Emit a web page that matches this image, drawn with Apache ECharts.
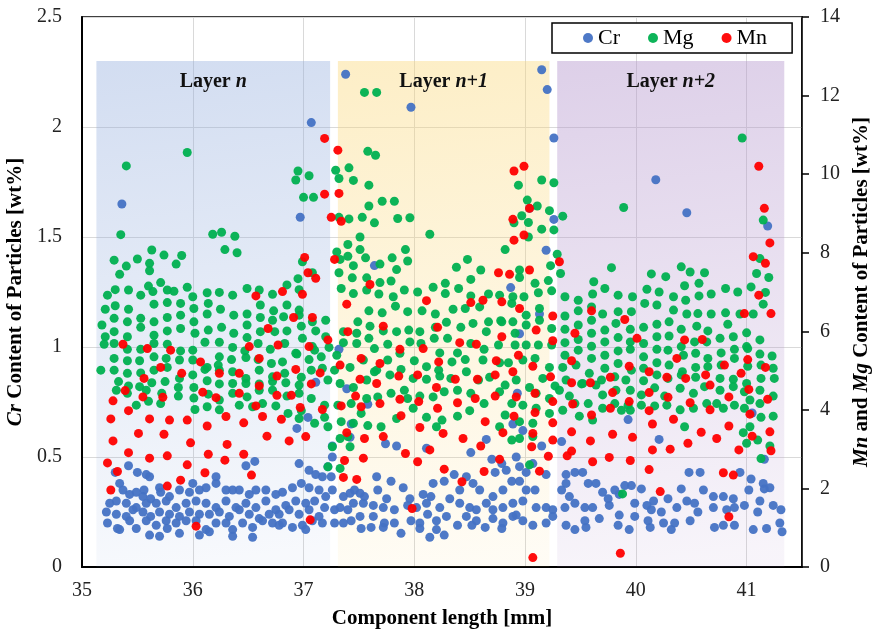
<!DOCTYPE html>
<html><head><meta charset="utf-8">
<script src="https://cdn.jsdelivr.net/npm/echarts@6/dist/echarts.min.js"></script>
<style>html,body{margin:0;padding:0;background:#fff}#c{width:872px;height:636px}</style>
</head><body><div id="c"></div>
<script>
const seriesNames = ['Cr', 'Mg', 'Mn'];
const layerLabels = [['Layer ', 'n'], ['Layer ', 'n+1'], ['Layer ', 'n+2']];
const layerRanges = [[35.13, 37.24], [37.31, 39.22], [39.29, 41.34]];
const layerTop = 2.3;
const xRange = [35, 41.5, 1];
const leftRange = [0, 2.5, 0.5];
const rightRange = [0, 14, 2];

const crData = [
[35.30,0.43],[35.42,0.46],[35.50,0.43],[35.58,0.42],[35.61,0.41],[35.34,0.38],[35.37,0.35],[35.43,0.33],[35.49,0.34],[35.56,0.35],[35.55,0.32],[35.62,0.31],[35.70,0.36],[35.71,0.34],[35.79,0.32],[35.88,0.35],[35.97,0.34],[36.00,0.38],[36.06,0.35],[36.12,0.36],[36.21,0.41],[36.21,0.38],[36.30,0.35],[36.36,0.35],[36.42,0.35],[36.51,0.33],[36.56,0.48],[36.48,0.46],[36.57,0.35],[36.66,0.35],[36.75,0.33],[36.81,0.34],[36.90,0.36],[36.96,0.47],[37.05,0.44],[37.11,0.42],[36.98,0.38],[37.05,0.36],[37.14,0.35],
[35.25,0.29],[35.31,0.30],[35.40,0.29],[35.49,0.27],[35.58,0.29],[35.67,0.29],[35.76,0.30],[35.85,0.27],[35.94,0.29],[36.03,0.30],[36.12,0.29],[36.21,0.27],[36.30,0.30],[36.39,0.27],[36.48,0.29],[36.57,0.27],[36.66,0.30],[36.75,0.26],[36.84,0.28],[36.93,0.30],[37.02,0.29],[37.10,0.30],
[35.22,0.25],[35.31,0.24],[35.40,0.23],[35.46,0.26],[35.55,0.25],[35.62,0.23],[35.70,0.25],[35.79,0.24],[35.88,0.23],[35.97,0.25],[36.06,0.24],[36.15,0.24],[36.24,0.25],[36.33,0.23],[36.42,0.26],[36.51,0.24],[36.60,0.22],[36.69,0.24],[36.78,0.24],[36.87,0.26],[36.96,0.24],[37.05,0.26],[37.14,0.23],
[35.23,0.20],[35.32,0.175],[35.43,0.21],[35.49,0.175],[35.58,0.21],[35.67,0.19],[35.76,0.21],[35.85,0.20],[35.94,0.21],[36.03,0.21],[36.12,0.17],[36.21,0.20],[36.30,0.20],[36.36,0.17],[36.45,0.20],[36.54,0.18],[36.63,0.21],[36.72,0.20],[36.81,0.20],[36.90,0.18],[36.99,0.19],[37.08,0.21],
[35.34,0.17],[35.61,0.145],[35.70,0.14],[35.77,0.175],[35.88,0.153],[36.06,0.145],[36.15,0.16],[36.36,0.14],[36.54,0.135],[36.78,0.19],[37.02,0.17],
[37.26,0.50],[37.22,0.456],[37.17,0.41],[37.25,0.41],[37.26,0.35],[37.20,0.32],[37.19,0.27],[37.28,0.26],[37.17,0.20],[37.28,0.20],
[37.36,0.32],[37.42,0.335],[37.46,0.35],[37.51,0.335],[37.55,0.32],[37.66,0.41],[37.67,0.35],[37.75,0.31],[37.79,0.39],[37.90,0.36],[37.96,0.31],[38.08,0.33],[38.15,0.32],[38.17,0.38],[38.27,0.39],[38.36,0.42],[38.41,0.35],[38.47,0.41],[38.53,0.38],[38.59,0.35],[38.70,0.49],[38.73,0.43],[38.79,0.47],[38.83,0.44],[38.88,0.39],[38.92,0.50],[38.95,0.456],[39.01,0.43],[39.07,0.47],[39.19,0.42],[39.09,0.35],[39.01,0.35],[38.95,0.39],[38.80,0.35],[38.71,0.32],
[37.33,0.27],[37.40,0.26],[37.45,0.29],[37.54,0.29],[37.63,0.28],[37.72,0.27],[37.82,0.26],[37.94,0.28],[38.02,0.27],[38.11,0.29],[38.23,0.27],[38.32,0.31],[38.41,0.29],[38.50,0.27],[38.56,0.26],[38.65,0.29],[38.71,0.26],[38.80,0.27],[38.89,0.29],[38.98,0.30],[39.10,0.27],[39.19,0.27],[39.25,0.26],
[37.36,0.20],[37.43,0.21],[37.51,0.23],[37.63,0.23],[37.73,0.20],[37.82,0.20],[37.97,0.21],[38.05,0.20],[38.12,0.24],[38.20,0.21],[38.29,0.23],[38.39,0.19],[38.47,0.23],[38.56,0.21],[38.64,0.18],[38.71,0.22],[38.80,0.20],[38.89,0.23],[38.98,0.21],[39.07,0.19],[39.19,0.20],[39.25,0.23],
[37.52,0.175],[37.61,0.18],[37.72,0.18],[37.88,0.153],[38.05,0.175],[38.14,0.135],[38.20,0.17],[38.27,0.145],[38.52,0.19],[38.79,0.175],[38.92,0.236],
[39.37,0.42],[39.45,0.43],[39.52,0.43],[39.37,0.38],[39.33,0.35],[39.40,0.32],[39.57,0.38],[39.64,0.38],[39.70,0.34],[39.75,0.31],[39.81,0.35],[39.90,0.37],[39.96,0.37],[40.05,0.355],[40.16,0.30],[40.29,0.31],[40.41,0.355],[40.48,0.43],[40.58,0.43],[40.61,0.35],[40.70,0.32],[40.79,0.32],[40.88,0.31],[40.94,0.43],[41.04,0.40],[41.15,0.38],[41.16,0.355],[41.21,0.36],[41.02,0.35],[41.12,0.30],
[39.36,0.27],[39.45,0.29],[39.54,0.27],[39.61,0.27],[39.76,0.28],[39.85,0.33],[39.99,0.29],[40.10,0.28],[40.14,0.26],[40.23,0.25],[40.37,0.27],[40.46,0.30],[40.53,0.29],[40.56,0.25],[40.70,0.27],[40.82,0.26],[40.89,0.27],[40.98,0.28],[41.10,0.25],[41.24,0.28],[41.31,0.26],
[39.37,0.19],[39.45,0.17],[39.54,0.21],[39.55,0.18],[39.67,0.22],[39.84,0.19],[39.85,0.236],[39.94,0.17],[39.99,0.23],[40.11,0.21],[40.13,0.18],[40.25,0.20],[40.32,0.17],[40.35,0.20],[40.49,0.21],[40.71,0.18],[40.79,0.19],[40.89,0.19],[41.06,0.17],[41.18,0.175],[41.30,0.20],[41.32,0.16],
[35.36,1.65],[37.07,2.02],[36.97,1.59],[37.38,2.24],[37.97,2.09],[39.15,2.26],[39.20,2.17],[39.26,1.95],[39.26,1.58],[39.04,1.63],[39.19,1.44],[38.87,1.27],[37.64,1.37],[40.18,1.76],[40.46,1.61],[41.19,1.55],
[37.32,0.99],[37.39,0.81],[37.58,0.74],[37.43,0.65],[37.42,0.59],[38.95,1.06],[38.93,0.79],[39.13,1.15],[38.89,0.65],[38.98,0.62],[37.74,0.56],[37.84,0.55],[38.11,0.54],[38.65,0.58],[38.51,0.52],[39.15,0.55],
[39.93,0.67],[40.21,0.58],[39.33,0.57],[41.05,0.70],[41.16,0.49],
[36.94,0.63],[37.04,0.68],[37.11,0.84],[37.26,0.55]
];

const mgData = [
[35.40,10.21],[35.95,10.55],[35.35,8.46],[36.18,8.47],[36.26,8.52],[36.38,8.42],[36.29,8.08],[36.40,8.00],[35.63,8.07],[35.29,7.81],[35.40,7.66],[35.34,7.45],[35.50,7.84],[35.61,7.73],[35.61,7.54],[35.74,7.94],[35.85,7.71],[35.90,7.93],[35.71,7.24],[35.60,7.15],[35.42,7.05],[35.30,7.06],[35.23,6.92],[35.53,6.92],[35.83,7.02],[35.95,7.12],[36.00,6.88],[36.13,6.98],[36.24,6.99],[36.36,6.92],[36.49,7.09],[36.60,7.05],[36.72,6.94],[36.85,7.18],[36.95,7.34],[36.96,7.06],[36.99,7.77],[37.08,7.49],[36.95,10.08],[36.93,9.85],[37.05,9.96],[37.00,9.41],[37.09,9.41],[35.64,7.01],[35.77,7.05],
[35.21,6.56],[35.30,6.65],[35.42,6.56],[35.65,6.69],[35.77,6.73],[35.89,6.71],[36.01,6.58],[36.14,6.71],[36.25,6.56],[36.37,6.41],[36.49,6.44],[36.61,6.67],[36.73,6.52],[36.85,6.67],[36.96,6.54],
[35.18,6.16],[35.29,6.33],[35.41,6.24],[35.53,6.33],[35.65,6.24],[35.77,6.35],[35.89,6.41],[36.01,6.24],[36.13,6.44],[36.26,6.10],[36.37,5.95],[36.49,6.16],[36.61,6.35],[36.72,6.28],[36.82,6.37],[36.96,6.41],[37.11,6.01],[37.08,6.24],
[35.21,5.86],[35.29,5.99],[35.41,5.86],[35.53,6.10],[35.65,5.90],[35.77,6.01],[35.89,6.07],[36.02,5.95],[36.14,6.03],[36.24,5.72],[36.49,5.84],[36.61,5.99],[36.74,5.99],[36.85,6.01],[36.98,6.13],[36.99,5.82],[37.10,5.52],
[35.20,5.67],[35.29,5.69],[35.41,5.54],[35.53,5.54],[35.65,5.69],[35.77,5.67],[35.89,5.50],[36.00,5.52],[36.11,5.72],[36.24,5.35],[36.36,5.59],[36.47,5.50],[36.59,5.69],[36.70,5.54],[36.83,5.69],[36.94,5.42],[37.08,5.61],
[35.29,5.31],[35.41,5.25],[35.52,5.25],[35.65,5.35],[35.76,5.31],[35.88,5.27],[36.00,5.27],[36.11,5.03],[36.23,5.14],[36.35,5.28],[36.48,5.33],[36.59,5.28],[36.71,5.18],[36.81,5.22],[36.93,5.44],[37.05,5.28],
[35.17,5.01],[35.29,5.01],[35.41,4.93],[35.53,4.94],[35.65,5.01],[35.77,5.08],[35.88,4.80],[36.00,4.89],[36.13,5.08],[36.24,5.01],[36.36,4.97],[36.48,4.80],[36.60,5.01],[36.72,4.84],[36.83,4.93],[36.98,4.83],[37.07,5.01],
[35.33,4.72],[35.42,4.61],[35.52,4.59],[35.63,4.69],[35.75,4.72],[35.87,4.57],[36.01,4.57],[36.13,4.74],[36.24,4.66],[36.36,4.67],[36.48,4.67],[36.60,4.66],[36.72,4.72],[36.84,4.69],[36.96,4.63],
[35.31,4.50],[35.41,4.42],[35.58,4.50],[35.72,4.42],[35.87,4.35],[36.01,4.30],[36.14,4.40],[36.24,4.25],[36.36,4.42],[36.49,4.33],[36.60,4.50],[36.72,4.50],[36.85,4.35],[36.96,4.42],[37.07,4.29],
[35.49,4.12],[35.60,4.22],[35.71,4.16],[36.02,4.01],[36.13,4.08],[36.24,4.00],[36.42,4.12],[36.54,4.08],[36.63,4.16],[36.75,4.10],[36.86,3.91],[36.96,3.78],[37.10,3.66],[36.98,3.98],
[37.55,12.08],[37.66,12.08],[37.58,10.58],[37.65,10.48],[37.29,10.10],[37.41,10.16],[37.32,9.89],[37.45,9.84],[37.59,9.72],[37.71,9.31],[37.82,9.31],[37.59,9.19],[37.32,8.90],[37.41,8.86],[37.53,8.90],[37.64,8.76],[37.85,8.87],[37.96,8.89],[38.14,8.47],[37.51,8.40],[37.40,8.21],[37.30,8.02],[37.51,8.08],[37.56,7.87],[37.40,7.91],[37.33,7.83],[37.45,7.67],[37.69,7.71],[37.80,7.87],[37.92,8.08],[37.94,7.79],[37.84,7.57],[37.32,7.49],[37.44,7.36],[37.57,7.36],[37.69,7.24],[37.79,7.28],[37.34,7.09],[37.45,6.96],[37.57,7.05],[37.68,6.95],[37.91,7.05],[38.03,7.00],[38.17,7.12],[38.28,7.22],[38.28,6.96],[38.40,7.09],[38.38,7.63],[38.48,7.83],[38.60,7.56],[38.51,7.32],[38.67,6.95],[38.77,6.92],[38.82,8.08],[38.94,9.72],[39.15,9.85],[39.26,9.78],[39.02,9.34],[39.11,9.19],[38.97,8.94],[39.03,8.77],[38.90,8.76],[39.22,9.07],[39.34,8.93],[39.15,8.60],[39.26,8.58],[39.03,8.40],[39.29,7.96],[39.23,7.67],[39.32,7.47],[38.95,7.56],[38.95,7.37],[39.09,7.22],[39.21,7.29],[39.12,6.98],[39.24,7.03],[38.89,6.88],[38.99,6.88],[39.36,6.88],
[37.81,6.88],[38.51,6.90],[38.88,6.71],
[37.20,6.28],[37.49,6.24],[37.59,6.52],[37.71,6.47],[37.83,6.64],[37.94,6.50],[38.07,6.52],[38.19,6.44],[38.29,6.23],[38.35,6.56],[38.46,6.58],[38.59,6.62],[38.67,6.24],[38.78,6.27],[38.89,6.24],[39.01,6.41],[39.13,6.58],[39.24,6.07],
[37.36,5.99],[37.48,5.95],[37.60,6.13],[37.72,6.01],[37.84,5.99],[37.95,6.03],[38.05,5.99],[38.19,6.10],[38.30,5.82],[38.42,6.10],[38.53,6.20],[38.65,5.99],[38.79,6.24],[38.91,5.95],[39.01,6.16],[39.13,6.28],
[37.20,5.86],[37.16,5.35],[37.23,5.59],[37.36,5.71],[37.48,5.69],[37.59,5.82],[37.64,5.56],[37.76,5.67],[37.87,5.44],[37.96,5.73],[38.06,5.69],[38.18,5.82],[38.23,5.45],[38.39,5.45],[38.51,5.69],[38.63,5.54],[38.76,5.65],[38.91,5.65],[39.01,5.65],[39.12,5.65],[39.24,5.65],
[37.17,5.06],[37.28,5.01],[37.30,5.39],[37.42,5.08],[37.54,5.27],[37.64,4.97],[37.76,5.27],[37.88,5.03],[38.00,5.25],[38.11,5.10],[38.22,5.01],[38.34,5.22],[38.46,5.28],[38.62,5.27],[38.77,5.20],[38.85,5.20],[38.98,5.27],[39.09,5.31],[39.22,5.08],
[37.22,4.76],[37.33,4.67],[37.45,4.57],[37.57,4.76],[37.66,5.01],[37.78,4.89],[37.91,4.50],[37.99,4.80],[38.11,4.78],[38.23,4.86],[38.33,4.80],[38.47,4.97],[38.58,4.76],[38.68,4.83],[38.82,4.63],[38.92,4.76],[39.04,4.57],[39.16,4.80],[39.27,4.61],
[37.19,4.12],[37.31,4.12],[37.43,4.16],[37.57,4.29],[37.67,4.33],[37.79,4.42],[37.94,4.29],[38.05,4.35],[38.17,4.33],[38.27,4.46],[38.39,4.50],[38.51,4.42],[38.63,4.16],[38.77,4.46],[38.88,4.16],[38.98,4.12],[39.10,4.42],[39.22,4.29],
[37.19,3.81],[37.22,3.57],[37.34,3.70],[37.45,3.66],[37.52,3.91],[37.58,3.60],[37.70,3.57],[37.84,3.78],[37.99,4.04],[38.11,3.81],[38.20,3.57],[38.25,3.74],[38.39,3.84],[38.50,3.98],[38.77,3.57],[38.82,3.87],[38.95,3.70],[39.07,3.66],[39.10,4.04],[39.22,3.91],
[37.40,3.32],[37.33,3.27],[37.42,3.06],[37.26,3.06],[37.22,2.55],[37.33,2.51],[38.88,3.23],[38.95,3.27],[39.04,2.60],[39.07,3.32],
[40.96,10.92],[39.89,9.15],[41.15,8.83],[41.12,7.85],[41.09,7.47],[41.20,7.37],[41.04,7.13],[41.17,6.99],[39.78,7.62],[39.62,7.26],[39.72,7.09],[39.61,6.95],[39.84,6.92],[39.97,6.88],[40.14,7.46],[40.10,7.07],[40.21,7.00],[40.27,7.39],[40.34,6.88],[40.41,7.64],[40.49,7.51],[40.62,7.49],[40.44,7.16],[40.57,7.22],[40.45,6.79],[40.57,6.90],[40.68,6.95],[40.81,7.09],[40.92,7.00],[39.48,6.79],[41.15,6.69],
[39.36,6.39],[39.48,6.52],[39.60,6.62],[39.70,6.44],[39.84,6.50],[39.96,6.50],[40.08,6.71],[40.19,6.67],[40.34,6.54],[40.46,6.44],[40.56,6.45],[40.68,6.44],[40.81,6.47],[40.94,6.44],[41.06,6.44],
[39.36,6.05],[39.48,6.16],[39.60,6.28],[39.72,6.03],[39.82,6.20],[39.95,6.05],[40.07,6.10],[40.19,6.18],[40.30,6.24],[40.41,6.05],[40.55,6.13],[40.65,6.01],[40.83,6.18],[41.00,5.96],[41.12,5.78],
[39.36,5.71],[39.48,5.79],[39.60,5.95],[39.72,5.73],[39.84,5.84],[39.95,5.73],[40.07,5.69],[40.19,5.86],[40.30,5.88],[40.41,5.61],[40.53,5.73],[40.64,5.73],[40.76,5.82],[40.88,5.86],[41.00,5.61],
[39.36,5.39],[39.48,5.52],[39.60,5.62],[39.72,5.39],[39.84,5.50],[39.95,5.54],[40.07,5.35],[40.19,5.54],[40.29,5.52],[40.43,5.39],[40.54,5.44],[40.65,5.31],[40.77,5.45],[40.89,5.54],[41.01,5.56],[41.12,5.42],[41.23,5.37],
[39.34,5.08],[39.46,5.14],[39.60,5.31],[39.72,5.06],[39.84,5.18],[39.96,5.01],[40.07,5.06],[40.19,5.20],[40.30,5.14],[40.42,4.97],[40.54,5.08],[40.65,5.10],[40.77,5.14],[40.89,5.31],[41.01,5.11],[41.13,5.14],[41.24,5.06],
[39.37,4.76],[39.52,4.67],[39.58,4.93],[39.69,4.76],[39.81,4.84],[39.91,4.76],[40.07,4.74],[40.19,4.89],[40.29,4.80],[40.41,4.89],[40.54,4.83],[40.76,4.80],[40.88,4.78],[41.00,4.67],[41.13,4.80],[41.25,4.80],
[39.31,4.50],[39.40,4.35],[39.51,4.66],[39.64,4.63],[39.70,4.38],[39.82,4.50],[39.95,4.50],[40.05,4.38],[40.17,4.56],[40.26,4.35],[40.40,4.55],[40.52,4.42],[40.62,4.59],[40.76,4.50],[40.88,4.59],[40.98,4.46],[41.12,4.50],[41.24,4.35],
[39.34,3.99],[39.45,4.16],[39.57,4.16],[39.70,4.04],[39.81,4.16],[39.93,4.12],[40.05,4.12],[40.17,4.10],[40.28,4.12],[40.40,4.00],[40.52,4.04],[40.64,4.16],[40.73,4.16],[40.79,4.04],[40.89,4.12],[40.98,4.04],[41.03,4.25],[41.12,4.16],
[39.49,3.84],[39.61,3.74],[39.87,3.99],[39.95,3.99],[40.44,3.57],[41.13,3.81],[41.24,3.84],[40.97,3.42],[41.03,3.57],[41.10,3.23],[41.00,3.15],[41.21,3.08],[41.13,2.76],[39.88,1.86]
];

const mnData = [
[37.01,7.88],[37.04,7.49],[37.11,7.35],
[37.19,10.91],[37.31,10.61],[37.19,9.49],[37.32,9.51],[37.25,8.90],[37.34,8.80],[37.28,7.83],[37.60,7.19],[38.90,10.08],[38.99,10.20],[38.89,8.85],[39.04,9.13],[38.90,8.32],[38.99,8.45],[38.76,7.49],[38.86,7.45],[39.04,7.56],[39.31,7.77],
[41.11,10.20],[41.16,9.13],[41.21,8.25],[41.06,7.90],[41.17,7.73],[41.11,6.92],
[36.57,6.90],[36.81,7.01],[36.99,6.94],[36.91,6.35],[37.08,6.35],[36.68,6.07],[35.37,5.67],[35.59,5.56],[35.80,5.52],[36.51,5.61],[36.77,5.65],[37.05,5.61],[36.07,5.22],[36.60,5.31],[35.71,5.08],[36.24,4.93],[36.42,4.93],[36.93,5.03],[37.15,4.94],[35.56,4.80],[35.90,4.93],[36.76,4.86],[36.60,4.61],[37.07,4.66],[35.39,4.49],[36.09,4.45],[36.21,4.31],[36.42,4.42],[35.73,4.32],[35.55,4.33],[36.76,4.37],[36.89,4.37],[35.28,4.23],[35.42,3.98],[36.57,4.10],[36.97,4.06],[35.26,3.77],[35.61,3.77],[35.79,3.74],[35.95,3.74],[36.30,3.83],[36.13,3.59],[36.46,3.67],[36.63,3.83],[36.80,3.76],[35.51,3.40],[35.74,3.38],[36.67,3.33],[37.02,3.32],[36.87,3.21],[35.28,3.21],[35.98,3.16],[36.31,3.12],[35.42,2.91],[35.61,2.77],[35.77,2.83],[36.14,2.87],[36.29,2.72],[36.46,2.87],[35.23,2.65],[35.32,2.43],[35.95,2.60],[36.11,2.40],[36.53,2.34],[35.89,2.21],[35.77,2.06],[35.26,1.96],[36.03,1.04],[37.06,1.20],
[37.39,6.69],[38.11,6.78],[38.51,6.73],[38.62,6.79],[38.79,6.75],[38.95,6.58],[37.40,5.99],[37.22,5.78],[37.72,6.13],[38.21,6.10],[39.10,6.03],[39.25,6.39],[37.87,5.54],[38.08,5.56],[38.41,5.71],[38.56,5.67],[38.79,5.86],[39.25,5.76],[37.52,5.31],[37.33,5.14],[37.69,5.18],[38.22,5.22],[38.74,5.25],[38.94,5.39],[39.07,5.11],[37.51,4.78],[37.66,4.67],[37.86,4.86],[38.03,4.89],[38.37,4.78],[38.57,4.78],[38.73,4.89],[38.89,4.97],[39.23,4.84],[37.47,4.35],[37.34,4.10],[37.52,4.08],[37.69,4.16],[37.87,4.27],[38.04,4.21],[38.20,4.57],[38.21,4.04],[38.39,4.18],[38.55,4.29],[38.73,4.35],[38.92,4.33],[39.09,4.42],[39.25,4.21],[37.17,4.01],[37.88,3.85],[38.05,3.55],[38.26,3.40],[38.44,3.27],[38.64,3.70],[38.90,3.84],[39.09,3.93],[39.25,3.67],[37.39,3.42],[37.55,3.27],[37.72,3.32],[37.92,2.89],[38.14,2.98],[38.60,3.08],[38.80,3.42],[39.07,3.40],[39.06,3.06],[39.21,2.82],[39.25,3.23],[37.37,2.71],[37.54,2.77],[38.03,2.68],[38.27,2.49],[38.77,2.74],[37.36,2.28],[37.48,2.23],[38.43,2.17],[38.63,2.43],[39.13,2.44],[37.98,1.49],[39.07,0.24],
[40.98,6.45],[41.22,6.45],[39.60,6.52],[39.90,6.30],[39.45,5.95],[40.01,5.82],[40.44,5.78],[40.60,5.79],[39.42,5.25],[40.37,5.31],[39.94,5.11],[40.12,4.97],[40.28,4.83],[40.45,4.80],[40.63,4.89],[40.80,5.14],[40.95,4.93],[41.01,5.28],[41.17,5.08],[39.77,4.83],[39.42,4.69],[39.59,4.69],[39.79,4.44],[40.12,4.44],[40.29,4.32],[40.49,4.18],[40.67,4.63],[40.84,4.33],[41.02,4.52],[41.19,4.27],[39.43,4.15],[39.94,4.21],[39.60,3.87],[39.77,4.04],[40.12,3.98],[40.34,3.76],[40.67,4.00],[41.03,3.89],[40.15,3.64],[40.84,3.59],[39.42,3.44],[39.79,3.38],[39.97,3.30],[40.59,3.43],[40.73,3.27],[41.05,3.33],[41.21,3.44],[39.59,3.21],[40.31,3.00],[40.15,2.98],[40.47,3.15],[40.93,2.98],[41.22,2.96],[39.42,2.95],[39.38,2.83],[39.76,2.79],[39.61,2.68],[39.95,2.71],[40.12,2.48],[40.79,2.40],[40.88,2.34],[40.22,1.92],[40.84,1.28],[39.86,0.35]
];

const FONT = 'Liberation Serif, Times New Roman, serif';
const bandColors = [
  ['rgba(143,170,220,0.40)', 'rgba(143,170,220,0.07)'],
  ['rgba(250,215,120,0.42)', 'rgba(250,215,120,0.08)'],
  ['rgba(180,150,205,0.45)', 'rgba(180,150,205,0.10)']
];
const grad = c => new echarts.graphic.LinearGradient(0, 0, 0.25, 1, [{offset: 0, color: c[0]}, {offset: 1, color: c[1]}]);

const chart = echarts.init(document.getElementById('c'), null, {renderer: 'canvas'});
const labelRich = {
  b: {fontFamily: FONT, fontWeight: 'bold', fontSize: 20, color: '#111'},
  i: {fontFamily: FONT, fontWeight: 'bold', fontStyle: 'italic', fontSize: 20, color: '#111'}
};
const nameRich = {
  t: {fontFamily: FONT, fontWeight: 'bold', fontSize: 21, color: '#000'},
  i: {fontFamily: FONT, fontWeight: 'bold', fontStyle: 'italic', fontSize: 21, color: '#000'}
};

chart.setOption({
  animation: false,
  backgroundColor: '#fff',
  grid: {left: 82, right: 70, top: 17, bottom: 69, show: true, borderColor: '#000', borderWidth: 1.5,
         backgroundColor: 'transparent', containLabel: false, outerBoundsMode: 'none'},
  legend: {
    data: seriesNames, left: 552, top: 23, orient: 'horizontal',
    padding: [4, 25, 4, 31], itemGap: 28, itemWidth: 10, itemHeight: 10, icon: 'circle',
    backgroundColor: '#fff', borderColor: '#000', borderWidth: 1.5,
    textStyle: {fontFamily: FONT, fontSize: 22, color: '#000'}
  },
  xAxis: {
    type: 'value', min: xRange[0], max: xRange[1], interval: xRange[2],
    axisLine: {show: true, onZero: false, lineStyle: {color: '#000', width: 2}},
    axisTick: {show: false},
    axisLabel: {showMaxLabel: false, fontFamily: FONT, fontSize: 20, color: '#222', margin: 14},
    splitLine: {show: true, lineStyle: {color: '#d9d9d9', width: 1}},
    name: 'Component length [mm]', nameLocation: 'middle', nameGap: 41,
    nameTextStyle: {fontFamily: FONT, fontWeight: 'bold', fontSize: 21, color: '#000'}
  },
  yAxis: [
    {
      type: 'value', position: 'left', min: leftRange[0], max: leftRange[1], interval: leftRange[2],
      axisLine: {show: true, lineStyle: {color: '#000', width: 2}},
      axisTick: {show: false},
      axisLabel: {fontFamily: FONT, fontSize: 20, color: '#222', margin: 20},
      splitLine: {show: true, lineStyle: {color: '#d9d9d9', width: 1}},
      name: '{i|Cr}{t| Content of Particles [wt%]}', nameLocation: 'middle', nameGap: 52, nameRotate: 90,
      nameTextStyle: {rich: nameRich}
    },
    {
      type: 'value', position: 'right', min: rightRange[0], max: rightRange[1], interval: rightRange[2],
      axisLine: {show: true, lineStyle: {color: '#000', width: 1.5}},
      axisTick: {show: true, inside: false, length: 7, lineStyle: {color: '#000', width: 1.5}},
      axisLabel: {fontFamily: FONT, fontSize: 20, color: '#222', margin: 18},
      splitLine: {show: false},
      name: '{i|Mn}{t| and }{i|Mg}{t| Content of Particles [wt%]}', nameLocation: 'middle', nameGap: 49, nameRotate: 90,
      nameTextStyle: {rich: nameRich}
    }
  ],
  series: [
    {
      type: 'scatter', name: 'layers', data: [], yAxisIndex: 0, z: 1, silent: true,
      markArea: {
        silent: true,
        data: layerRanges.map((r, i) => [
          {xAxis: r[0], yAxis: 0, itemStyle: {color: grad(bandColors[i])},
           label: {show: true, position: 'insideTop', distance: 11,
                   formatter: '{b|' + layerLabels[i][0] + '}{i|' + layerLabels[i][1] + '}', rich: labelRich}},
          {xAxis: r[1], yAxis: layerTop}
        ])
      }
    },
    {type: 'scatter', name: 'Cr', data: crData, yAxisIndex: 0, symbolSize: 9, itemStyle: {color: '#4472C4', opacity: 0.95}},
    {type: 'scatter', name: 'Mg', data: mgData, yAxisIndex: 1, symbolSize: 9, itemStyle: {color: '#00B050', opacity: 0.95}},
    {type: 'scatter', name: 'Mn', data: mnData, yAxisIndex: 1, symbolSize: 9, itemStyle: {color: '#FF0000', opacity: 0.95}}
  ]
});
</script>
</body></html>
